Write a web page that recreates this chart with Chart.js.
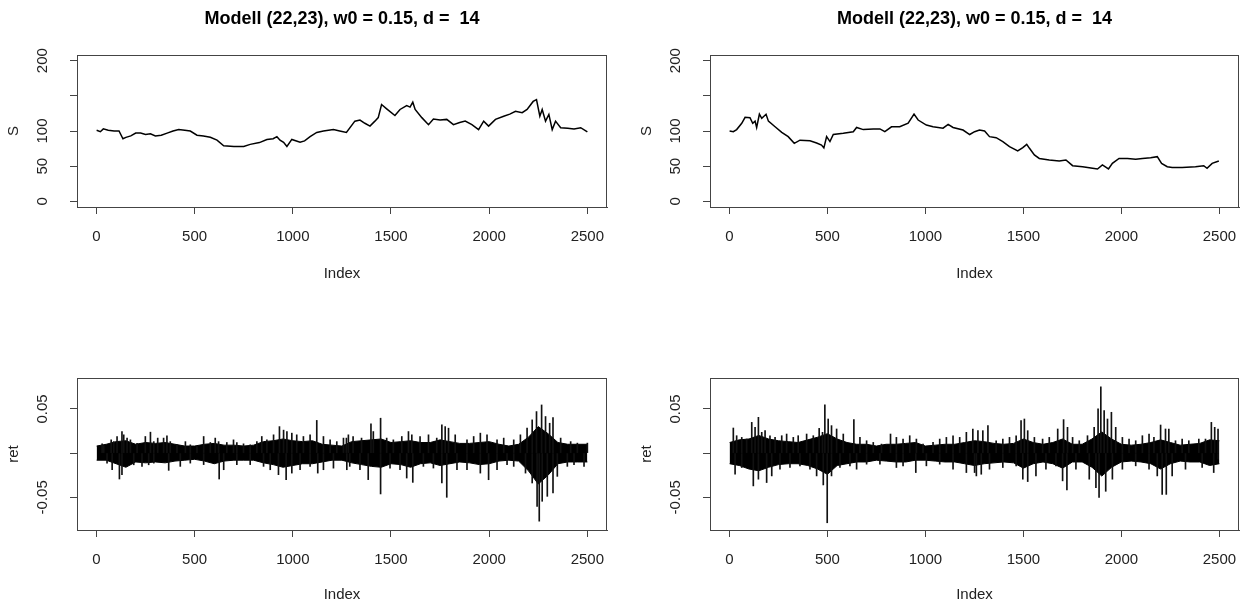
<!DOCTYPE html>
<html><head><meta charset="utf-8">
<script src="https://cdn.jsdelivr.net/npm/chart.js@4"></script>
<style>
html,body{margin:0;padding:0;background:#fff;}
body{width:1243px;height:604px;position:relative;overflow:hidden;}
canvas{position:absolute;}
</style></head><body>
<canvas id="c1" width="621" height="302" style="left:0;top:0"></canvas>
<canvas id="c2" width="620" height="302" style="left:633px;top:0"></canvas>
<canvas id="c3" width="621" height="302" style="left:0;top:302px"></canvas>
<canvas id="c4" width="620" height="302" style="left:633px;top:302px"></canvas>
<script>
// ---------- data ----------
const titleText = 'Modell (22,23), w0 = 0.15, d =  14';
const xTicks = [0, 500, 1000, 1500, 2000, 2500];
const sTicks = [0, 50, 100, 150, 200];
const sTickLabels = ['0', '50', '100', '', '200'];
const retTicks = [-0.05, 0, 0.05];
const retTickLabels = ['-0.05', '', '0.05'];

// price path, left model
const sIdx1 = [1,20,35,60,90,115,135,150,175,200,225,250,275,300,330,360,390,419,450,478,512,545,580,614,648,700,750,783,830,868,900,919,935,953,970,995,1037,1060,1088,1122,1156,1207,1239,1273,1316,1342,1367,1393,1418,1435,1452,1478,1520,1546,1580,1597,1611,1623,1657,1691,1716,1750,1784,1818,1850,1878,1912,1946,1972,1997,2032,2074,2105,2134,2168,2193,2224,2241,2258,2270,2287,2304,2321,2338,2364,2400,2432,2466,2500];
const sVal1 = [101,99,103,101,100,100,89,91,93,97,97,95,96,93,94,97,100,102,101,100,94,93,91,87,79,78,78,81,83.5,88,89,92,87,84,78,88,84,86,92,98,100,102,100,98,114,115.5,111,107,114,119,137.6,131.5,122,130.6,136,134,141,130.6,119,109,117,115.5,116.5,109,112,114,109,102,114,107,116.5,121,124,128,126,130.6,142,144.7,121,130.6,114,123.5,102,114,104.7,104,103,104.7,98.6];

// price path, right model
const sIdx2 = [1,20,37,63,80,105,119,131,139,153,165,187,199,233,267,300,331,360,411,445,470,482,496,513,530,581,632,649,683,734,768,793,827,869,912,942,963,1005,1039,1090,1116,1141,1192,1226,1251,1276,1302,1327,1361,1395,1429,1471,1497,1517,1531,1556,1581,1632,1683,1717,1751,1802,1853,1878,1903,1934,1954,1988,2031,2073,2107,2149,2183,2205,2234,2259,2310,2378,2420,2437,2463,2497];
const sVal2 = [100,99,102,111,119.4,119,111,114,105,124,118,123.7,114,106,98,92,82.5,87,86,83,80,76,92,85,95,96.7,99,105,102,103,103,99,106,106,111,124,115.6,108.5,106,104,109.5,105,101.4,95,99,101.4,100,92,90.5,85,77.7,71.6,76.3,81,75.4,66,61,58.8,57.3,58.8,50.7,49.3,47,46,51.7,46,54,61,61,60,61,62,63.5,54,49.3,48,48.3,49.3,50.7,47,54,57.3];

// returns: dense core band (upper / lower edge) every 50 steps
const retBandIdx = [1,50,100,150,200,250,300,350,400,450,500,550,600,650,700,750,800,850,900,950,1000,1050,1100,1150,1200,1250,1300,1350,1400,1450,1500,1550,1600,1650,1700,1750,1800,1850,1900,1950,2000,2050,2100,2150,2200,2250,2300,2350,2400,2450,2500];
const retHi1 = [0.008,0.010,0.013,0.014,0.010,0.012,0.011,0.012,0.010,0.008,0.008,0.010,0.011,0.009,0.009,0.008,0.009,0.013,0.014,0.016,0.014,0.013,0.014,0.010,0.009,0.008,0.013,0.014,0.015,0.016,0.012,0.013,0.014,0.012,0.012,0.015,0.013,0.011,0.011,0.012,0.013,0.010,0.008,0.010,0.018,0.030,0.022,0.012,0.010,0.010,0.010];
const retLo1 = [-0.008,-0.008,-0.012,-0.016,-0.010,-0.011,-0.010,-0.011,-0.009,-0.008,-0.007,-0.009,-0.012,-0.009,-0.008,-0.008,-0.008,-0.011,-0.013,-0.016,-0.014,-0.012,-0.012,-0.010,-0.008,-0.008,-0.011,-0.013,-0.015,-0.016,-0.012,-0.013,-0.016,-0.012,-0.011,-0.014,-0.012,-0.010,-0.011,-0.013,-0.012,-0.009,-0.008,-0.009,-0.020,-0.035,-0.025,-0.012,-0.010,-0.010,-0.010];
const retHi2 = [0.012,0.015,0.016,0.020,0.016,0.014,0.013,0.012,0.015,0.018,0.022,0.016,0.012,0.010,0.010,0.008,0.010,0.010,0.011,0.012,0.008,0.009,0.010,0.010,0.012,0.014,0.013,0.011,0.010,0.011,0.016,0.012,0.010,0.012,0.016,0.010,0.010,0.016,0.024,0.016,0.010,0.009,0.010,0.012,0.015,0.012,0.009,0.010,0.011,0.015,0.014];
const retLo2 = [-0.012,-0.014,-0.018,-0.020,-0.016,-0.013,-0.012,-0.012,-0.014,-0.018,-0.024,-0.014,-0.012,-0.010,-0.010,-0.008,-0.009,-0.010,-0.010,-0.008,-0.008,-0.009,-0.010,-0.010,-0.012,-0.014,-0.012,-0.011,-0.010,-0.011,-0.017,-0.012,-0.010,-0.012,-0.017,-0.010,-0.010,-0.016,-0.026,-0.016,-0.010,-0.009,-0.010,-0.012,-0.018,-0.012,-0.009,-0.010,-0.010,-0.014,-0.012];

// returns: visible spikes above the band (index, value)
const upIdx1 = [29,37,75,88,105,130,139,156,173,207,249,275,292,312,342,359,376,410,453,478,512,546,580,605,622,664,698,715,749,783,817,842,868,902,932,953,970,995,1020,1054,1088,1122,1156,1190,1224,1258,1273,1283,1307,1350,1398,1410,1447,1478,1512,1555,1589,1606,1648,1691,1733,1759,1776,1793,1827,1887,1921,1955,1989,2040,2074,2125,2159,2193,2219,2241,2267,2287,2308,2325,2364,2415,2449,2500];
const upVal1 = [0.0105,0.0083,0.015,0.013,0.0188,0.0244,0.0207,0.017,0.015,0.011,0.0188,0.0237,0.013,0.017,0.017,0.0195,0.013,0.0094,0.013,0.0094,0.0075,0.0188,0.012,0.017,0.013,0.012,0.015,0.012,0.0105,0.0094,0.013,0.0188,0.015,0.0207,0.030,0.026,0.0244,0.0226,0.0207,0.0188,0.0207,0.037,0.0188,0.015,0.013,0.017,0.017,0.0207,0.0188,0.017,0.0331,0.0244,0.0395,0.017,0.015,0.0188,0.0244,0.0207,0.0188,0.0207,0.017,0.032,0.030,0.0282,0.0207,0.015,0.0188,0.0226,0.0207,0.015,0.017,0.015,0.0207,0.0282,0.0376,0.047,0.0545,0.0414,0.0338,0.0403,0.017,0.013,0.0113,0.0113];
// returns: visible spikes below the band (index, value)
const dnIdx1 = [54,80,117,130,190,232,266,292,368,427,478,546,625,648,715,783,851,885,927,966,995,1037,1088,1127,1156,1207,1275,1290,1342,1384,1447,1495,1546,1580,1611,1665,1716,1759,1784,1836,1887,1955,1997,2040,2091,2125,2185,2219,2244,2255,2270,2296,2325,2347,2398,2432,2483];
const dnVal1 = [-0.0113,-0.0188,-0.0293,-0.0244,-0.0132,-0.015,-0.0132,-0.0113,-0.0195,-0.015,-0.0113,-0.013,-0.0293,-0.0188,-0.013,-0.013,-0.015,-0.0188,-0.0244,-0.030,-0.0226,-0.0188,-0.015,-0.0226,-0.0188,-0.017,-0.0188,-0.015,-0.0188,-0.030,-0.0462,-0.0169,-0.0188,-0.0282,-0.0331,-0.015,-0.0169,-0.0338,-0.050,-0.0188,-0.0188,-0.0226,-0.0301,-0.0188,-0.013,-0.015,-0.0226,-0.0338,-0.0602,-0.077,-0.0545,-0.0489,-0.0451,-0.0263,-0.015,-0.013,-0.015];

const upIdx2 = [20,37,63,88,114,131,148,165,182,207,233,267,292,326,351,394,428,458,475,487,504,521,547,581,635,666,700,734,776,822,852,886,920,954,988,1039,1073,1107,1141,1175,1209,1242,1268,1293,1319,1361,1395,1429,1463,1488,1505,1522,1556,1598,1632,1675,1705,1725,1751,1785,1827,1861,1881,1895,1912,1929,1949,1971,2005,2039,2073,2107,2141,2166,2200,2225,2242,2276,2310,2344,2395,2429,2459,2476,2493];
const upVal2 = [0.0284,0.0197,0.0178,0.0159,0.0348,0.0292,0.0405,0.0235,0.0254,0.0197,0.0178,0.0197,0.0216,0.0178,0.0197,0.0216,0.0197,0.028,0.0235,0.0545,0.0386,0.0311,0.0273,0.0216,0.0379,0.0178,0.014,0.0121,0.0102,0.0216,0.0178,0.0159,0.0197,0.0159,0.0102,0.0121,0.0159,0.0178,0.0197,0.0178,0.0235,0.0273,0.0254,0.0254,0.0311,0.014,0.0159,0.0178,0.0197,0.0367,0.0386,0.0254,0.0178,0.0159,0.0178,0.0273,0.0379,0.0292,0.0178,0.014,0.0197,0.0292,0.050,0.075,0.0481,0.0386,0.0462,0.0292,0.0178,0.0159,0.014,0.0197,0.0216,0.0178,0.0318,0.0273,0.0273,0.014,0.0159,0.014,0.0159,0.0159,0.0348,0.0292,0.0273];
const dnIdx2 = [29,63,122,148,190,216,258,309,360,411,445,479,499,521,564,615,649,700,768,852,886,951,1005,1073,1141,1209,1251,1260,1285,1327,1395,1463,1497,1522,1564,1615,1666,1700,1722,1768,1836,1870,1886,1920,1954,2005,2073,2141,2183,2208,2229,2259,2327,2412,2471,2493];
const dnVal2 = [-0.0239,-0.0163,-0.0371,-0.0295,-0.0333,-0.0258,-0.0182,-0.0163,-0.0144,-0.0182,-0.0258,-0.036,-0.0788,-0.0258,-0.0163,-0.0144,-0.0182,-0.0125,-0.0125,-0.0163,-0.0144,-0.022,-0.0144,-0.0125,-0.0182,-0.022,-0.022,-0.0258,-0.0239,-0.0182,-0.0163,-0.0144,-0.0295,-0.0322,-0.0258,-0.0182,-0.0144,-0.0314,-0.0417,-0.0182,-0.0295,-0.039,-0.050,-0.0432,-0.0295,-0.0182,-0.0144,-0.0182,-0.0258,-0.0467,-0.0467,-0.0258,-0.0182,-0.0163,-0.022,-0.0068];

// ---------- rendering ----------
const FAM = '"Liberation Sans", Arial, Helvetica, sans-serif';
const TXT = '#222';
const AX = '#444';

const rAxisPlugin = {
  id: 'rAxis',
  afterDraw(chart, args, opts) {
    const ctx = chart.ctx, a = chart.chartArea, ys = chart.scales.y;
    ctx.save();
    ctx.font = '15px ' + FAM;
    ctx.fillStyle = TXT;
    ctx.textAlign = 'center';
    ctx.textBaseline = 'middle';
    opts.values.forEach((v, i) => {
      const lab = opts.labels[i];
      if (!lab) return;
      ctx.save();
      ctx.translate(a.left - 34, ys.getPixelForValue(v));
      ctx.rotate(-Math.PI / 2);
      ctx.fillText(lab, 0, 0);
      ctx.restore();
    });
    ctx.strokeStyle = AX;
    ctx.lineWidth = 1;
    ctx.strokeRect(Math.round(a.left) + 0.5, Math.round(a.top) + 0.5,
                   Math.round(a.right - a.left) - 1, Math.round(a.bottom - a.top));
    ctx.restore();
  }
};

function makeChart(id, datasets, cfg) {
  const canvas = document.getElementById(id);
  return new Chart(canvas, {
    type: 'line',
    data: { datasets },
    plugins: [rAxisPlugin],
    options: {
      responsive: false,
      animation: false,
      events: [],
      layout: { padding: { top: cfg.top ? 0 : 76, right: cfg.padRight, bottom: 0, left: 0 } },
      plugins: {
        legend: { display: false },
        tooltip: { enabled: false },
        title: {
          display: cfg.top, text: titleText, fullSize: false, color: '#000',
          font: { family: FAM, size: 18, weight: 'bold', lineHeight: 1.2 },
          padding: { top: 8.5, bottom: 24.9 }
        },
        rAxis: { values: cfg.yTicks, labels: cfg.yLabels }
      },
      scales: {
        x: {
          type: 'linear', min: -99, max: 2600, offset: false,
          afterBuildTicks: s => { s.ticks = xTicks.map(v => ({ value: v })); },
          afterFit: s => { s.height = cfg.top ? 95 : 74; },
          grid: { display: true, offset: false, drawOnChartArea: false, drawTicks: true, tickLength: 7, color: AX, tickColor: AX, tickWidth: 1 },
          border: { display: true, color: AX, width: 1 },
          ticks: { autoSkip: false, maxRotation: 0, minRotation: 0, padding: 14, color: TXT,
                   font: { family: FAM, size: 15, lineHeight: 1.2 }, callback: v => String(v) },
          title: { display: true, text: 'Index', color: TXT, font: { family: FAM, size: 15, lineHeight: 1.2 },
                   padding: { top: 0, bottom: cfg.top ? 19 : 0 } }
        },
        y: {
          type: 'linear', min: cfg.yMin, max: cfg.yMax,
          afterBuildTicks: s => { s.ticks = cfg.yTicks.map(v => ({ value: v })); },
          afterFit: s => { s.width = 77; },
          grid: { display: true, drawOnChartArea: false, drawTicks: true, tickLength: 7, color: AX, tickColor: AX, tickWidth: 1 },
          border: { display: true, color: AX, width: 1 },
          ticks: { display: false },
          title: { display: true, text: cfg.yTitle, color: TXT, font: { family: FAM, size: 15, lineHeight: 1.2 },
                   padding: { top: 5, bottom: 0 } }
        }
      }
    }
  });
}

function priceSet(idx, val) {
  return [{
    data: idx.map((x, i) => ({ x, y: val[i] })),
    borderColor: '#000', borderWidth: 1.5, pointRadius: 0, tension: 0, fill: false
  }];
}
function retSets(hi, lo, uIdx, uVal, dIdx, dVal) {
  const spikes = uIdx.map((x, i) => ({ x, y: [0, uVal[i]] }))
    .concat(dIdx.map((x, i) => ({ x, y: [0, dVal[i]] })));
  return [
    { data: retBandIdx.map((x, i) => ({ x, y: hi[i] })), borderColor: '#000', borderWidth: 1,
      backgroundColor: '#000', pointRadius: 0, tension: 0, fill: '+1', order: 2 },
    { data: retBandIdx.map((x, i) => ({ x, y: lo[i] })), borderColor: '#000', borderWidth: 1,
      pointRadius: 0, tension: 0, fill: false, order: 2 },
    { type: 'bar', data: spikes, backgroundColor: '#111', borderWidth: 0,
      barThickness: 1, order: 1 }
  ];
}

makeChart('c1', priceSet(sIdx1, sVal1), { top: true, padRight: 14, yMin: -8, yMax: 208, yTicks: sTicks, yLabels: sTickLabels, yTitle: 'S' });
makeChart('c2', priceSet(sIdx2, sVal2), { top: true, padRight: 14, yMin: -8, yMax: 208, yTicks: sTicks, yLabels: sTickLabels, yTitle: 'S' });
makeChart('c3', retSets(retHi1, retLo1, upIdx1, upVal1, dnIdx1, dnVal1), { top: false, padRight: 14, yMin: -0.087, yMax: 0.085, yTicks: retTicks, yLabels: retTickLabels, yTitle: 'ret' });
makeChart('c4', retSets(retHi2, retLo2, upIdx2, upVal2, dnIdx2, dnVal2), { top: false, padRight: 14, yMin: -0.087, yMax: 0.085, yTicks: retTicks, yLabels: retTickLabels, yTitle: 'ret' });
</script>
</body></html>
